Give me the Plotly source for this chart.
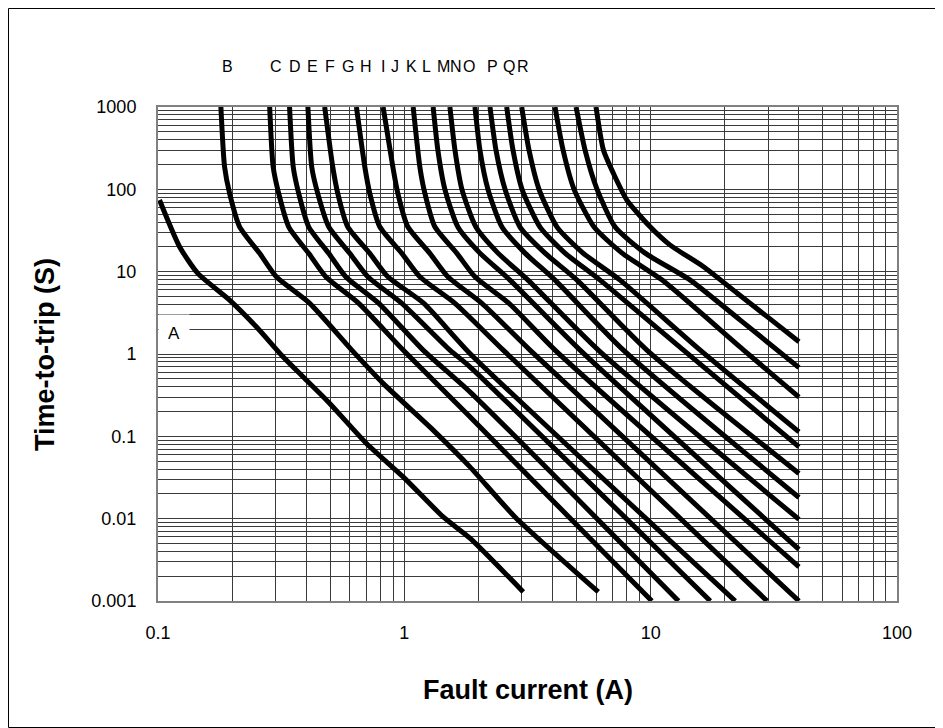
import math
import plotly.graph_objects as go

# ---- data: fault current (A) / time-to-trip (s) for each fuse curve ----
A_amps = [0.1014, 0.1223, 0.1451, 0.1953, 0.2507, 0.3217, 0.3878, 0.4979, 0.702, 0.989, 1.438, 1.846, 3.04]
A_secs = [74.1, 20.1, 9.54, 4.52, 2.14, 0.925, 0.528, 0.251, 0.082, 0.0322, 0.0105, 0.0058, 0.00129]

B_amps = [0.180, 0.1863, 0.1953, 0.2145, 0.2586, 0.3023, 0.413, 0.612, 0.820, 1.309, 1.846, 2.813, 6.13]
B_secs = [1000, 188, 89.4, 35.1, 16.7, 8.67, 4.12, 1.115, 0.44, 0.119, 0.0426, 0.0105, 0.00129]

C_amps = [0.284, 0.2934, 0.309, 0.3393, 0.409, 0.4798, 0.653, 0.989, 1.846, 10.11]
C_secs = [1000, 188, 89.4, 35.1, 16.7, 8.67, 4.12, 1.115, 0.1726, 0.001]

D_amps = [0.342, 0.3539, 0.3725, 0.409, 0.4933, 0.5782, 0.7876, 1.192, 1.846, 12.97]
D_secs = [1000, 188, 89.4, 35.1, 16.7, 8.67, 4.12, 1.115, 0.347, 0.001]

E_amps = [0.406, 0.4207, 0.445, 0.4933, 0.6003, 0.7107, 0.977, 1.531, 1.846, 17.46]
E_secs = [1000, 188, 89.4, 35.1, 16.7, 8.67, 4.12, 1.115, 0.699, 0.001]

F_amps = [0.475, 0.512, 0.5367, 0.589, 0.724, 0.857, 1.2, 1.846, 22.05]
F_secs = [1000, 188, 89.4, 35.1, 16.7, 8.67, 4.12, 1.017, 0.001]

G_amps = [0.639, 0.691, 0.724, 0.795, 0.977, 1.156, 1.605, 2.521, 29.69]
G_secs = [1000, 188, 89.4, 35.1, 16.7, 8.67, 4.12, 1.115, 0.001]

H_amps = [0.820, 0.898, 0.941, 1.033, 1.27, 1.502, 2.065, 3.237, 40.0]
H_secs = [1000, 188, 89.4, 35.1, 16.7, 8.67, 4.12, 1.115, 0.001]

I_amps = [1.086, 1.156, 1.212, 1.33, 1.635, 1.935, 2.66, 4.091, 40.0]
I_secs = [1000, 188, 89.4, 35.1, 16.7, 8.67, 4.12, 1.115, 0.0026]

J_amps = [1.309, 1.368, 1.461, 1.65, 2.027, 2.685, 5.17, 40.0]
J_secs = [1000, 300, 100, 34.8, 16.8, 7.9, 1.115, 0.00423]

K_amps = [1.531, 1.605, 1.713, 1.953, 2.4, 3.177, 6.13, 40.0]
K_secs = [1000, 300, 100, 34.8, 16.8, 7.9, 1.115, 0.0098]

L_amps = [1.935, 2.027, 2.185, 2.491, 3.09, 4.09, 7.75, 40.0]
L_secs = [1000, 300, 100, 34.8, 16.8, 7.9, 1.115, 0.0181]

M_amps = [2.227, 2.355, 2.563, 2.949, 3.725, 5.026, 9.65, 40.0]
M_secs = [1000, 300, 100, 34.8, 16.8, 7.9, 1.115, 0.0354]

N_amps = [2.603, 2.761, 3.005, 3.555, 4.492, 6.232, 13.59, 40.0]
N_secs = [1000, 300, 100, 34.8, 16.8, 7.9, 1.115, 0.0745]

O_amps = [2.995, 3.207, 3.522, 4.168, 5.316, 7.516, 15.89, 40.0]
O_secs = [1000, 300, 100, 34.8, 16.8, 7.9, 1.115, 0.1135]

P_amps = [4.09, 4.409, 4.887, 5.892, 7.657, 11.14, 23.84, 40.0]
P_secs = [1000, 300, 100, 34.8, 16.8, 7.9, 1.115, 0.30]

Q_amps = [4.98, 5.416, 6.06, 7.174, 9.497, 14.47, 23.11, 40.0]
Q_secs = [1000, 300, 100, 34.8, 16.8, 7.9, 2.58, 0.684]

R_amps = [6.0, 6.43, 7.06, 8.006, 9.95, 12.0, 16.39, 22.4, 30.6, 40.0]
R_secs = [1000, 300, 156, 74.1, 35.1, 21.0, 11.47, 5.5, 2.65, 1.41]

curve_names = list("ABCDEFGHIJKLMNOPQR")
curve_amps = [A_amps, B_amps, C_amps, D_amps, E_amps, F_amps, G_amps, H_amps, I_amps,
              J_amps, K_amps, L_amps, M_amps, N_amps, O_amps, P_amps, Q_amps, R_amps]
curve_secs = [A_secs, B_secs, C_secs, D_secs, E_secs, F_secs, G_secs, H_secs, I_secs,
              J_secs, K_secs, L_secs, M_secs, N_secs, O_secs, P_secs, Q_secs, R_secs]

# curve letters above the plot (current at which each letter sits)
top_letters = list("BCDEFGHIJKLMNOPQR")
top_letter_amps = [0.1917, 0.3023, 0.3588, 0.4246, 0.498, 0.589, 0.702, 0.818, 0.915,
                   1.07, 1.231, 1.441, 1.627, 1.838, 2.29, 2.67, 3.04]
a_label_amp, a_label_sec = 0.1156, 1.78

x_tickvals = [0.1, 1, 10, 100]
x_ticktext = ["0.1", "1", "10", "100"]
y_tickvals = [0.001, 0.01, 0.1, 1, 10, 100, 1000]
y_ticktext = ["0.001", "0.01", "0.1", "1", "10", "100", "1000"]

FONT = "Liberation Sans, Arial, sans-serif"
GRID = "#3a3a3a"
FRAME = "#808080"

fig = go.Figure()
for name, xs, ys in zip(curve_names, curve_amps, curve_secs):
    fig.add_trace(go.Scatter(x=xs, y=ys, mode="lines", name=name,
                             line=dict(color="black", width=5, shape="spline", smoothing=0.6),
                             showlegend=False, hoverinfo="skip"))

annotations = []
for letter, amp in zip(top_letters, top_letter_amps):
    annotations.append(dict(x=math.log10(amp), y=1.081, xref="x", yref="paper",
                            text=letter, showarrow=False,
                            font=dict(family=FONT, size=16, color="black"),
                            xanchor="center", yanchor="middle"))
annotations.append(dict(x=math.log10(a_label_amp), y=math.log10(a_label_sec), xref="x", yref="y",
                        text="A", showarrow=False, bgcolor="white", borderpad=9,
                        font=dict(family=FONT, size=17, color="black"),
                        xanchor="center", yanchor="middle"))
# axis titles
annotations.append(dict(x=0.5, y=-0.180, xref="paper", yref="paper",
                        text="<b>Fault current (A)</b>", showarrow=False,
                        font=dict(family=FONT, size=27, color="black"),
                        xanchor="center", yanchor="middle"))
annotations.append(dict(x=-0.153, y=0.5, xref="paper", yref="paper",
                        text="<b>Time-to-trip (S)</b>", showarrow=False, textangle=-90,
                        font=dict(family=FONT, size=27, color="black"),
                        xanchor="center", yanchor="middle"))

axis_common = dict(type="log", showline=True, mirror=True, linecolor=FRAME, linewidth=2,
                   showgrid=True, gridcolor=GRID, gridwidth=1, ticks="", zeroline=False,
                   tickfont=dict(family=FONT, size=18, color="black"),
                   minor=dict(dtick="D1", showgrid=True, gridcolor=GRID, gridwidth=1, ticks=""))

fig.update_layout(
    width=935, height=720,
    margin=dict(l=150, r=46, t=99, b=127),
    paper_bgcolor="white", plot_bgcolor="white",
    annotations=annotations,
    xaxis=dict(axis_common, range=[-1, 2], tickmode="array", tickvals=x_tickvals,
               ticktext=x_ticktext, ticklabelstandoff=14),
    yaxis=dict(axis_common, range=[-3, 3], tickmode="array", tickvals=y_tickvals,
               ticktext=y_ticktext, ticklabelstandoff=16),
    shapes=[dict(type="rect", xref="paper", yref="paper",
                 x0=-0.2023, x1=1.0616, y0=-0.2561, y1=1.1994,
                 line=dict(color="black", width=1), layer="below")],
)

fig.write_html("out.html")
